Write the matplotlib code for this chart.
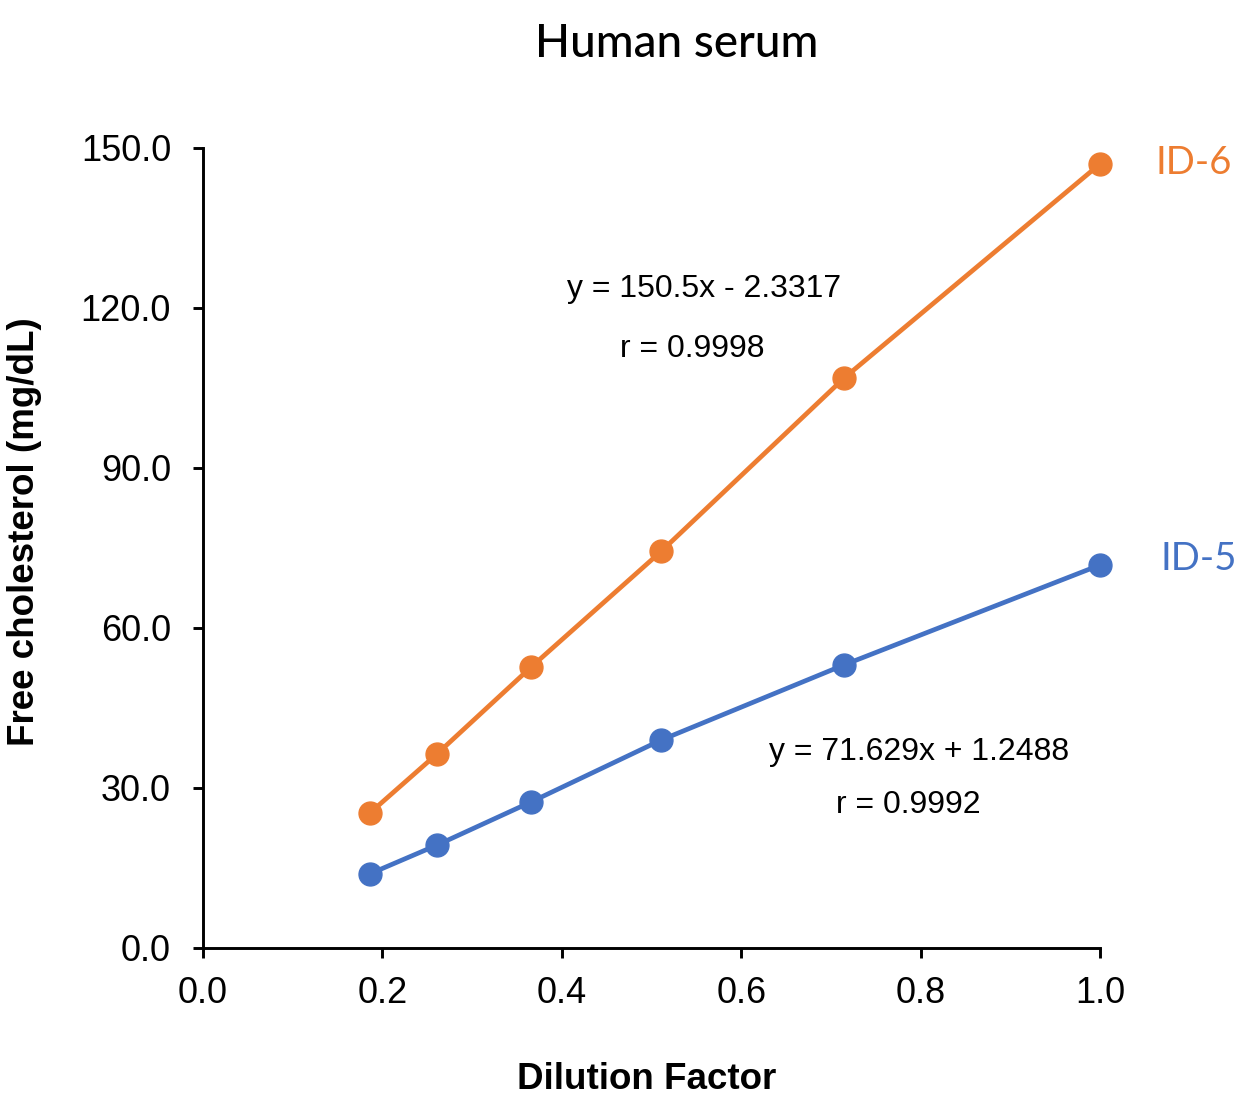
import matplotlib
matplotlib.use("Agg")
import matplotlib.pyplot as plt

dilution = [0.186, 0.261, 0.366, 0.511, 0.715, 1.0]
id6_values = [25.3, 36.4, 52.7, 74.4, 106.9, 147.0]
id5_values = [13.9, 19.3, 27.4, 39.0, 53.1, 71.8]
x_ticks = [0.0, 0.2, 0.4, 0.6, 0.8, 1.0]
y_ticks = [0.0, 30.0, 60.0, 90.0, 120.0, 150.0]

orange = "#ED7D31"
blue = "#4472C4"

fig = plt.figure(figsize=(12.5, 11), dpi=100)
ax = fig.add_axes([0.1624, 0.1382, 0.7176, 0.7273])

ax.plot(dilution, id6_values, color=orange, lw=3.4, marker="o", ms=16.5, zorder=3, clip_on=False)
ax.plot(dilution, id5_values, color=blue, lw=3.4, marker="o", ms=16.5, zorder=3, clip_on=False)

ax.set_xlim(0, 1.0)
ax.set_ylim(0, 150)
ax.set_xticks(x_ticks)
ax.set_xticklabels([f"{v:.1f}" for v in x_ticks])
ax.set_yticks(y_ticks)
ax.set_yticklabels([f"{v:.1f}" for v in y_ticks])
ax.spines["top"].set_visible(False)
ax.spines["right"].set_visible(False)
for s in ["left", "bottom"]:
    ax.spines[s].set_linewidth(2.1)
ax.tick_params(direction="out", length=7, width=2.1, labelsize=26)
ax.tick_params(axis="y", pad=16)
ax.tick_params(axis="x", pad=13)
for lab in ax.get_xticklabels() + ax.get_yticklabels():
    lab.set_fontfamily("Liberation Sans")

ax.set_xlabel("Dilution Factor", fontsize=26.5, fontweight="bold", family="Liberation Sans")
ax.set_ylabel("Free cholesterol (mg/dL)", fontsize=26.5, fontweight="bold", family="Liberation Sans")
ax.xaxis.set_label_coords(0.495, -0.1425)
ax.yaxis.set_label_coords(-0.18, 0.521)

fig.text(0.5416, 0.96, "Human serum", ha="center", va="center", fontsize=33, family="Lato", fontweight="medium")

fig.text(0.955, 0.852, "ID-6", ha="center", va="center", fontsize=27.5, family="Lato", color=orange)
fig.text(0.959, 0.492, "ID-5", ha="center", va="center", fontsize=27.5, family="Lato", color=blue)

fig.text(0.5636, 0.737, "y = 150.5x - 2.3317", ha="center", va="center", fontsize=23, family="Liberation Sans")
fig.text(0.554, 0.683, "r = 0.9998", ha="center", va="center", fontsize=23, family="Liberation Sans")
fig.text(0.735, 0.316, "y = 71.629x + 1.2488", ha="center", va="center", fontsize=23, family="Liberation Sans")
fig.text(0.727, 0.268, "r = 0.9992", ha="center", va="center", fontsize=23, family="Liberation Sans")

fig.savefig("out.png", dpi=100, facecolor="white")
